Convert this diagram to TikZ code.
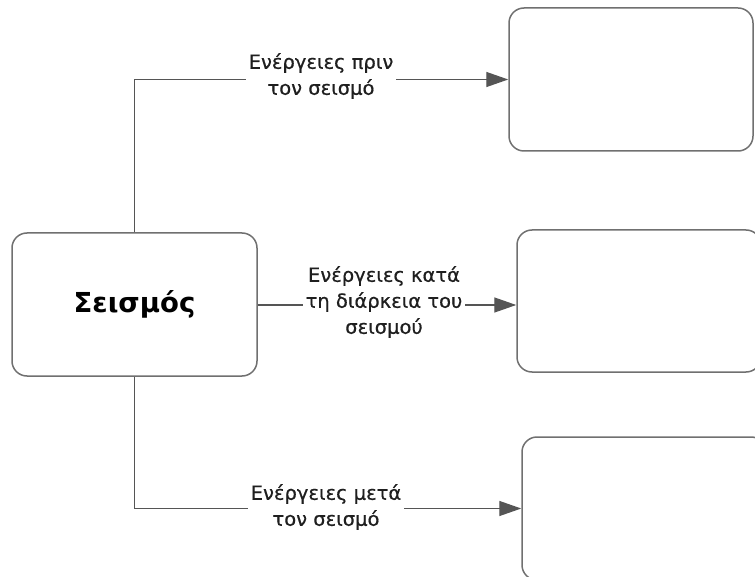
\documentclass[tikz,border=0pt]{standalone}
\usepackage{fontspec}
\setmainfont{DejaVu Sans}
\newfontfamily\lblfont[FakeBold=0.6]{DejaVu Sans}
\usetikzlibrary{arrows.meta}
\definecolor{linegray}{HTML}{555555}
\definecolor{boxgray}{HTML}{707070}
\begin{document}
\begin{tikzpicture}[x=1pt,y=-1pt,
  box/.style={draw=boxgray,line width=1.5pt,rounded corners=15pt,fill=white,inner sep=0pt},
  conn/.style={draw=linegray,line width=1.4pt},
  arr/.style={conn,-{Triangle[length=22pt,width=15pt]}},
  lbl/.style={fill=white,align=center,font=\lblfont\fontsize{19.5}{26}\selectfont,inner sep=3pt,text=black!88}]
\useasboundingbox (0,0) rectangle (755,577);
\node[box,minimum width=245pt,minimum height=143pt,font=\fontsize{27.5}{32}\selectfont\bfseries] (seis) at (134.5,304.5) {Σεισμός};
\node[box,minimum width=244pt,minimum height=143pt] (b1) at (631,79.5) {};
\node[box,minimum width=244pt,minimum height=142pt] (b2) at (639,301) {};
\node[box,minimum width=244pt,minimum height=143pt] (b3) at (644,508.5) {};
\coordinate (c1) at (seis.north |- b1.west);
\coordinate (c3) at (seis.south |- b3.west);
\draw[arr] (seis.north) -- (c1) -- (b1.west);
\draw[arr] (seis.east |- 0,305) -- (b2.west |- 0,305);
\draw[arr] (seis.south) -- (c3) -- (b3.west);
\node[lbl] (l1) at (321,76) {Ενέργειες πριν\\τον σεισμό};
\node[lbl] (l2) at (384,302) {Ενέργειες κατά\\τη διάρκεια του\\σεισμού};
\node[lbl] (l3) at (326,507) {Ενέργειες μετά\\τον σεισμό};
\end{tikzpicture}
\end{document}
